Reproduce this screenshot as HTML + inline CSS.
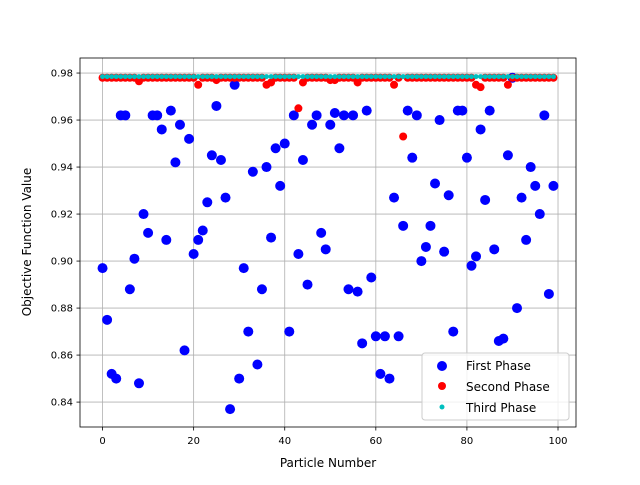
<!DOCTYPE html>
<html><head><meta charset="utf-8"><style>
body{margin:0;background:#fff;font-family:"Liberation Sans","DejaVu Sans",sans-serif}
svg text{font-family:"DejaVu Sans","Liberation Sans",sans-serif;fill:#000}
</style></head><body>
<svg id="chart" width="640" height="480" xmlns="http://www.w3.org/2000/svg">
<rect width="640" height="480" fill="#fff"/>
<g id="grid"></g><g id="marks"></g><g id="axes"></g>
<text x="328" y="467" font-size="12" text-anchor="middle">Particle Number</text>
<text transform="translate(31,242) rotate(-90)" font-size="12" text-anchor="middle">Objective Function Value</text>
<g>
<rect x="422" y="353" width="147" height="67" rx="3" fill="#fff" fill-opacity="0.8" stroke="#ccc"/>
<circle cx="442" cy="366" r="5" fill="#0000ff"/>
<text x="466" y="370" font-size="12">First Phase</text>
<circle cx="442" cy="386" r="4" fill="#ff0000"/>
<text x="466" y="391" font-size="12">Second Phase</text>
<circle cx="442" cy="407" r="2.5" fill="#00bfbf"/>
<text x="466" y="412" font-size="12">Third Phase</text>
</g>
</svg>
<script>
const firstPhase=[.897,.875,.852,.850,.962,.962,.888,.901,.848,.920,.912,.962,.962,.956,.909,.964,.942,.958,.862,.952,.903,.909,.913,.925,.945,.966,.943,.927,.837,.975,.850,.897,.870,.938,.856,.888,.940,.910,.948,.932,.950,.870,.962,.903,.943,.890,.958,.962,.912,.905,.958,.963,.948,.962,.888,.962,.887,.865,.964,.893,.868,.852,.868,.850,.927,.868,.915,.964,.944,.962,.900,.906,.915,.933,.960,.904,.928,.870,.964,.964,.944,.898,.902,.956,.926,.964,.905,.866,.867,.945,.978,.880,.927,.909,.940,.932,.920,.962,.886,.932];
const secondDips={8:.9765,21:.975,25:.977,36:.975,37:.976,43:.965,44:.976,50:.977,51:.977,56:.976,64:.975,66:.953,82:.975,83:.974,89:.975};
const secondPhase=firstPhase.map((_,i)=>secondDips[i]!==undefined?secondDips[i]:.978);
const thirdPhase=firstPhase.map(()=>.9785);
const xTicks=[0,20,40,60,80,100];
const yTicks=[0.84,0.86,0.88,0.90,0.92,0.94,0.96,0.98];
const L=80,R=576,T=58,B=427,xmin=-4.95,xmax=103.95,ymin=0.8294,ymax=0.9864;
const sx=v=>L+(v-xmin)/(xmax-xmin)*(R-L);
const sy=v=>B-(v-ymin)/(ymax-ymin)*(B-T);
const NS="http://www.w3.org/2000/svg";
function mk(tag,attrs,parent){const e=document.createElementNS(NS,tag);for(const k in attrs)e.setAttribute(k,attrs[k]);parent.appendChild(e);return e;}
const grid=document.getElementById('grid'),marks=document.getElementById('marks'),axes=document.getElementById('axes');
xTicks.forEach(t=>{const x=sx(t);
 const g=mk('line',{x1:x,x2:x,y1:T,y2:B,stroke:'#b0b0b0','stroke-width':0.8},grid);
 
 
 mk('line',{x1:x,x2:x,y1:B,y2:B+3.5,stroke:'#000','stroke-width':0.8},axes);
 const tx=mk('text',{x:x,y:B+17,'font-size':10,'text-anchor':'middle'},axes);tx.textContent=t;
 
 });
yTicks.forEach(t=>{const y=sy(t);
 const g=mk('line',{x1:L,x2:R,y1:y,y2:y,stroke:'#b0b0b0','stroke-width':0.8},grid);
 
 
 mk('line',{x1:L-3.5,x2:L,y1:y,y2:y,stroke:'#000','stroke-width':0.8},axes);
 const tx=mk('text',{x:L-7,y:y+3.5,'font-size':10,'text-anchor':'end'},axes);tx.textContent=t.toFixed(2);
 
 });
const fr=mk('rect',{x:L,y:T,width:R-L,height:B-T,fill:'none',stroke:'#000','stroke-width':0.8},axes);


firstPhase.forEach((v,i)=>{const c=mk('circle',{cx:sx(i),cy:sy(v),r:5,fill:'#0000ff'},marks);
 
 });
secondPhase.forEach((v,i)=>{const c=mk('circle',{cx:sx(i),cy:sy(v),r:4,fill:'#ff0000'},marks);
 
 });
thirdPhase.forEach((v,i)=>{const c=mk('circle',{cx:sx(i),cy:sy(v),r:2.5,fill:'#00bfbf'},marks);
 
 });
</script>
</body></html>
